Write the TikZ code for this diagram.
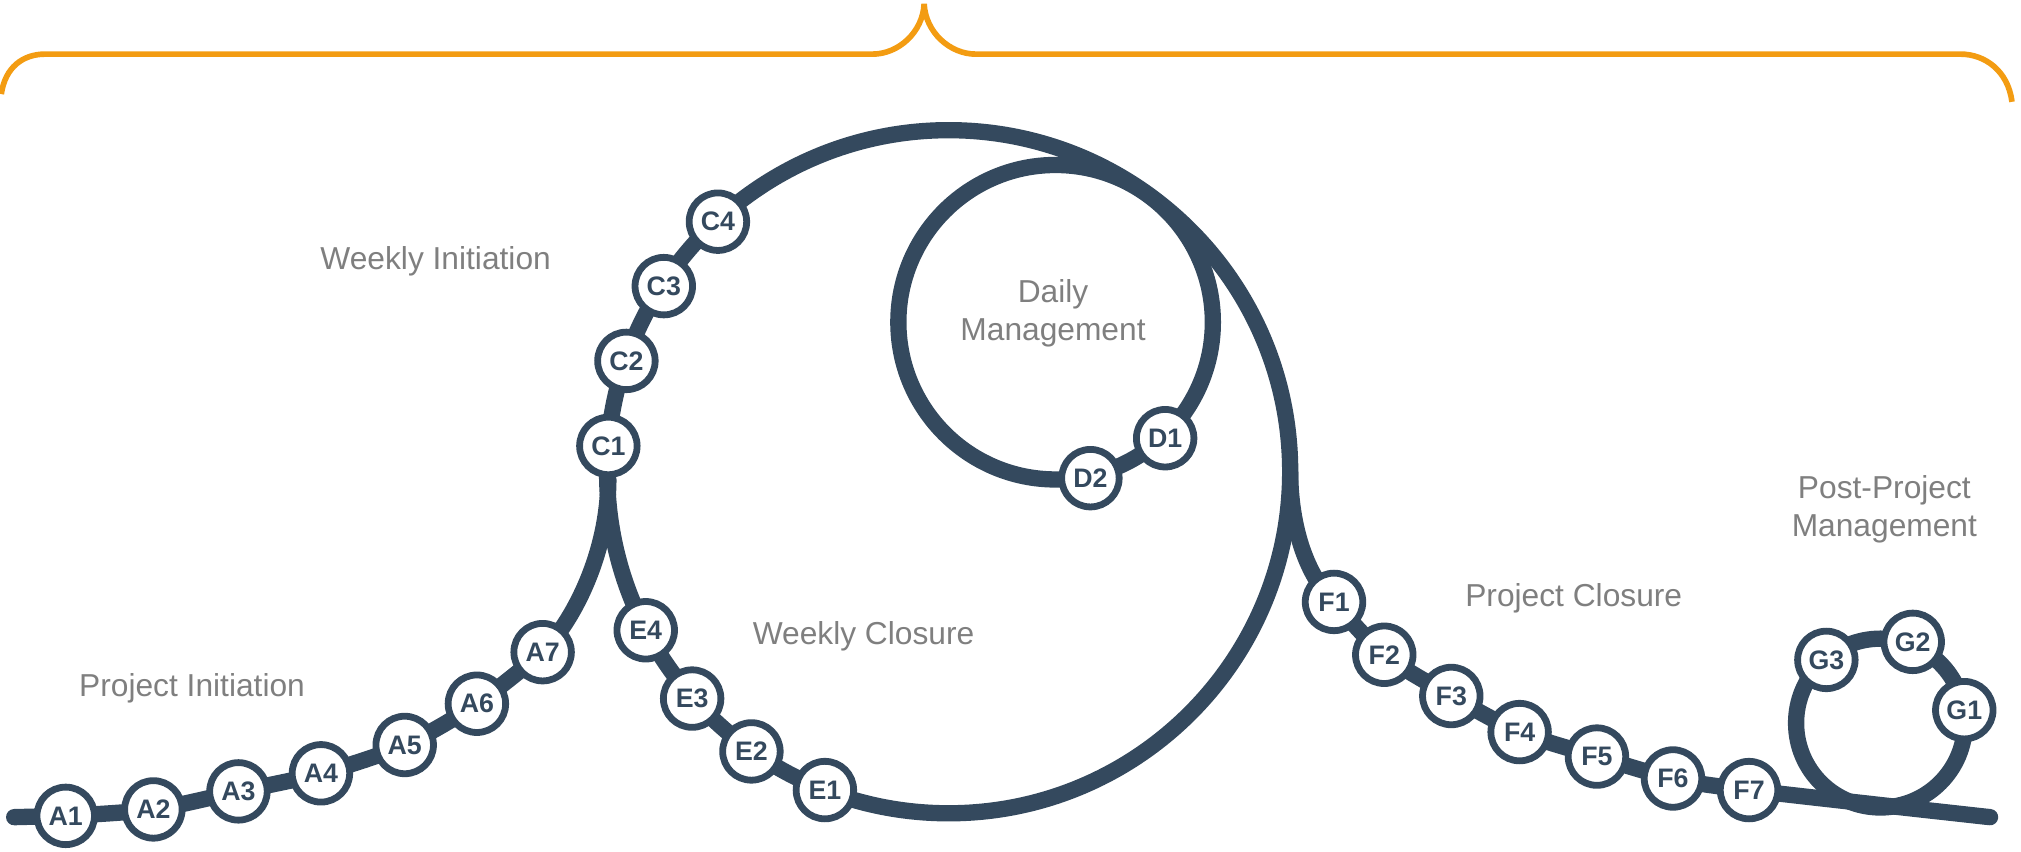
\documentclass[tikz,border=0pt]{standalone}
\usepackage{fontspec}
\setmainfont{Liberation Sans}
\usetikzlibrary{backgrounds}
\definecolor{trackblue}{HTML}{34495E}
\definecolor{braceorange}{HTML}{F39C12}
\definecolor{labelgray}{HTML}{7F7F7F}

\begin{document}
\begin{tikzpicture}[x=0.01cm,y=-0.01cm,
    stepnode/.style={circle, draw=trackblue, line width=1.5pt, fill=white,
        minimum size=4.46mm, inner sep=0pt, text=trackblue,
        font=\fontsize{5.9}{6}\selectfont\bfseries},
    track/.style={draw=trackblue, line width=3.6pt},
    phase/.style={text=labelgray, align=center,
        font=\fontsize{7}{8.3}\selectfont}]
    \useasboundingbox (0,0) rectangle (1568,661);
    \pgfmathsetmacro{\R}{265}
    \pgfmathsetmacro{\r}{122}
    \pgfmathsetmacro{\rg}{65.5}
    % Draw the brace
    \draw [braceorange, line width=1.25pt] (1,73) .. controls (4,52) and (18,42) .. (35,42)
        -- (677,42) .. controls (697,42) and (716,25) .. (717,3)
        .. controls (718,25) and (737,42) .. (757,42)
        -- (1521,42) .. controls (1540,42) and (1558,55) .. (1561,79);

    % Fixed points of the track
    \coordinate (start) at (11,634);
    \coordinate (merge) at (472,372);
    \coordinate (split) at (1001,366);
    \coordinate (finish) at (1544,634);
    \coordinate (weekly) at (736,366);
    \coordinate (daily) at (819,250);
    \coordinate (post) at (1459,561);

    % Project initiation
    \node [stepnode] (A1) at (51,633) {A1};
    \node [stepnode] (A2) at (119,628) {A2};
    \node [stepnode] (A3) at (185,614) {A3};
    \node [stepnode] (A4) at (249,600) {A4};
    \node [stepnode] (A5) at (314,578) {A5};
    \node [stepnode] (A6) at (370,546) {A6};
    \node [stepnode] (A7) at (421,506) {A7};
    % Weekly initiation
    \node [stepnode] (C1) at (472,346) {C1};
    \node [stepnode] (C2) at (486,280) {C2};
    \node [stepnode] (C3) at (515,222) {C3};
    \node [stepnode] (C4) at (557,172) {C4};
    % Daily management
    \node [stepnode] (D1) at (904,340) {D1};
    \node [stepnode] (D2) at (846,371) {D2};
    % Weekly closure
    \node [stepnode] (E1) at (640,613) {E1};
    \node [stepnode] (E2) at (583,583) {E2};
    \node [stepnode] (E3) at (537,542) {E3};
    \node [stepnode] (E4) at (501,489) {E4};
    % Project closure
    \node [stepnode] (F1) at (1035,467) {F1};
    \node [stepnode] (F2) at (1074,508) {F2};
    \node [stepnode] (F3) at (1126,540) {F3};
    \node [stepnode] (F4) at (1179,568) {F4};
    \node [stepnode] (F5) at (1239,587) {F5};
    \node [stepnode] (F6) at (1298,604) {F6};
    \node [stepnode] (F7) at (1357,613) {F7};
    % Post-project management
    \node [stepnode] (G1) at (1524,551) {G1};
    \node [stepnode] (G2) at (1484,498) {G2};
    \node [stepnode] (G3) at (1417,512) {G3};

    % Phase labels
    \node [phase] (projinit) at (149,534) {Project Initiation};
    \node [phase] (weekinit) at (338,203) {Weekly Initiation};
    \node [phase] (dailymgmt) at (817,243) {Daily\\Management};
    \node [phase] (weekclose) at (670,494) {Weekly Closure};
    \node [phase] (projclose) at (1221,464) {Project Closure};
    \node [phase] (postmgmt) at (1462,395) {Post-Project\\Management};

    % Draw the track behind the steps
    \begin{scope}[on background layer]
        \draw [track, line cap=round] (start) -- plot [smooth] coordinates {(A1.center) (A2.center)
            (A3.center) (A4.center) (A5.center) (A6.center) (A7.center)}
            .. controls (448,478) and (472,425) .. (merge);
        \draw [track] (weekly) circle (\R);
        \draw [track] (daily) circle (\r);
        \draw [track] (split) .. controls (1001,405) and (1012,445) .. (F1.center);
        \draw [track, line cap=round] plot [smooth] coordinates {(F1.center) (F2.center)
            (F3.center) (F4.center) (F5.center) (F6.center) (F7.center) (finish)};
        \draw [track] (post) circle (\rg);
    \end{scope}
\end{tikzpicture}
\end{document}
